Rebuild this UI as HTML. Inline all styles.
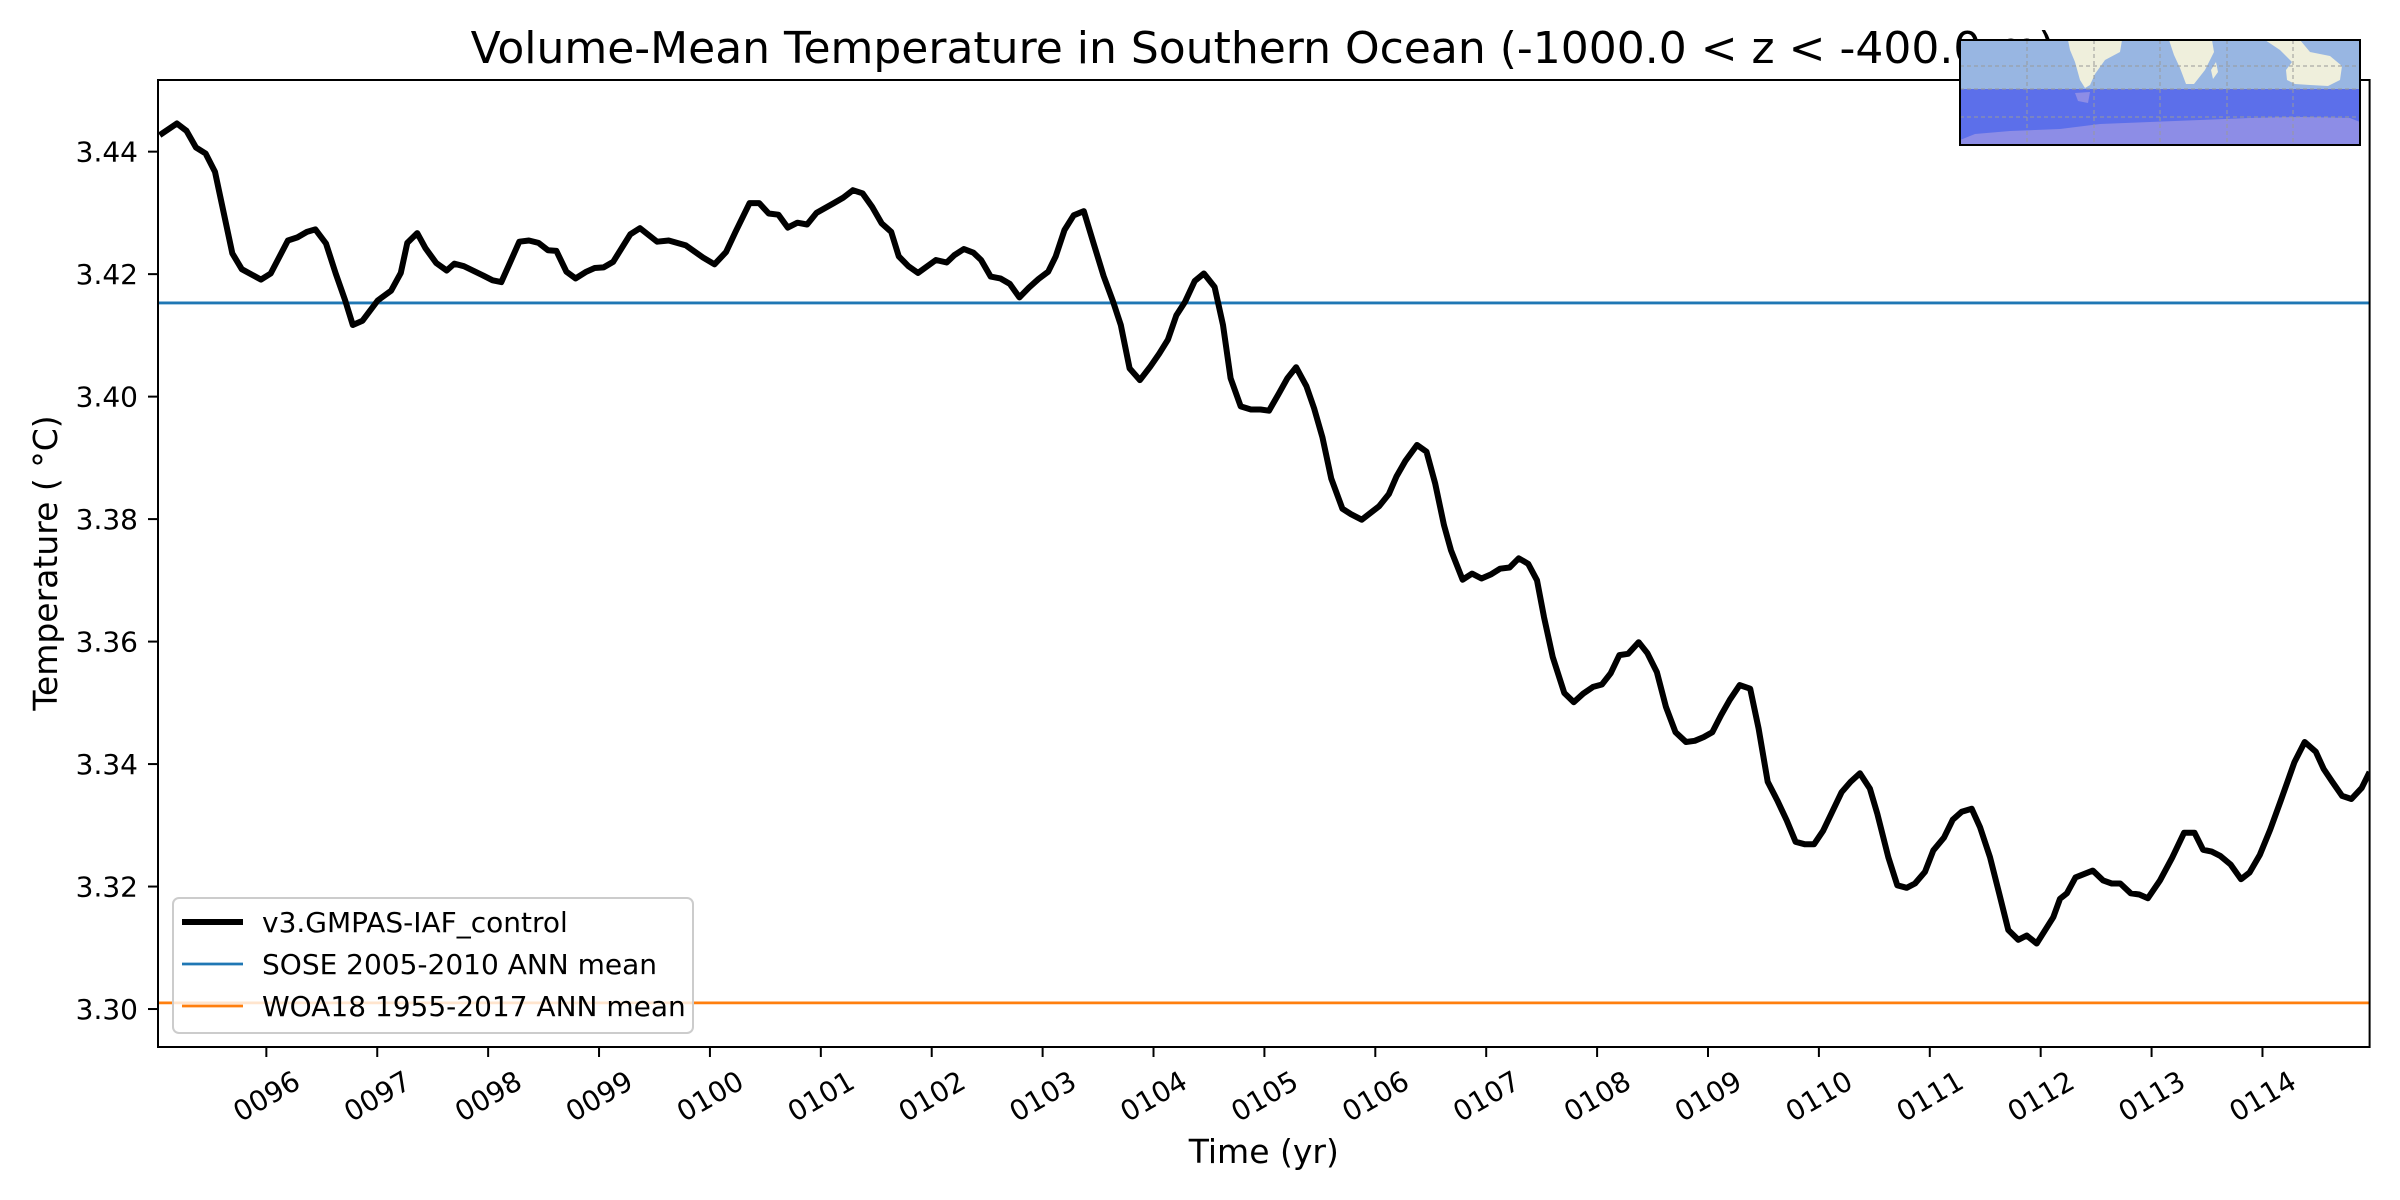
<!DOCTYPE html>
<html><head><meta charset="utf-8"><style>
html,body{margin:0;padding:0;background:#fff;}
svg{display:block;font-family:"DejaVu Sans","Liberation Sans",sans-serif;}
</style></head><body>
<svg id="chart" width="2400" height="1200" viewBox="0 0 2400 1200">
<rect x="0" y="0" width="2400" height="1200" fill="#fff"/>
<text x="1263" y="63" font-size="44" text-anchor="middle" fill="#000">Volume-Mean Temperature in Southern Ocean (-1000.0 &lt; z &lt; -400.0 m)</text>
<g id="plot"></g>
<g id="inset">
  <rect x="1960" y="40" width="400" height="50" fill="#98b6e2"/>
  <rect x="1960" y="89" width="400" height="56" fill="#5c6fea"/>
  <path d="M1960 140 L1975 134 L2010 131 L2060 129 L2100 124 L2150 122 L2200 120 L2250 118 L2300 117 L2350 118 L2360 122 L2360 145 L1960 145 Z" fill="#8d8de6"/>
  <path d="M2068 40 L2122 40 L2120 52 L2105 60 L2095 74 L2090 85 L2085 88 L2080 80 L2075 62 L2070 50 Z" fill="#efefdc"/>
  <path d="M2169 40 L2212 40 L2214 52 L2205 70 L2194 84 L2186 84 L2180 68 L2174 55 Z" fill="#efefdc"/>
  <path d="M2211 70 L2216 62 L2218 72 L2213 79 Z" fill="#efefdc"/>
  <path d="M2265 40 L2300 40 L2310 52 L2330 56 L2342 66 L2340 80 L2328 86 L2310 85 L2295 84 L2287 80 L2286 70 L2292 62 L2280 50 Z" fill="#efefdc"/>
  <path d="M2075 93 L2090 92 L2088 103 L2078 101 Z" fill="#8d8de6"/>
  <g stroke="#999" stroke-width="1" stroke-dasharray="4,3" fill="none">
    <line x1="2027" y1="40" x2="2027" y2="145"/><line x1="2094" y1="40" x2="2094" y2="145"/>
    <line x1="2160" y1="40" x2="2160" y2="145"/><line x1="2227" y1="40" x2="2227" y2="145"/>
    <line x1="2293" y1="40" x2="2293" y2="145"/>
    <line x1="1960" y1="66" x2="2360" y2="66"/><line x1="1960" y1="89" x2="2360" y2="89"/>
    <line x1="1960" y1="117" x2="2360" y2="117"/>
  </g>
  <rect x="1960" y="40" width="400" height="105" fill="none" stroke="#000" stroke-width="2"/>
</g>
</svg>
<script>
const times = [95.038,95.193,95.280,95.365,95.452,95.537,95.693,95.779,95.952,96.039,96.194,96.280,96.366,96.442,96.538,96.625,96.711,96.780,96.867,97.004,97.125,97.212,97.271,97.360,97.436,97.533,97.626,97.695,97.781,97.954,98.040,98.119,98.195,98.281,98.368,98.454,98.540,98.616,98.706,98.789,98.885,98.961,99.041,99.127,99.282,99.369,99.524,99.628,99.783,99.938,100.041,100.145,100.231,100.358,100.444,100.530,100.617,100.702,100.789,100.876,100.961,101.117,101.203,101.289,101.376,101.462,101.548,101.635,101.703,101.790,101.876,102.038,102.135,102.204,102.290,102.376,102.445,102.532,102.618,102.704,102.791,102.876,102.963,103.050,103.118,103.197,103.280,103.371,103.463,103.550,103.636,103.705,103.784,103.877,103.971,104.051,104.130,104.206,104.285,104.372,104.454,104.551,104.627,104.695,104.786,104.878,104.965,105.041,105.130,105.207,105.286,105.379,105.448,105.524,105.603,105.703,105.781,105.877,106.034,106.123,106.192,106.271,106.376,106.462,106.540,106.619,106.683,106.787,106.872,106.958,107.046,107.125,107.211,107.293,107.379,107.458,107.521,107.600,107.704,107.790,107.875,107.964,108.043,108.122,108.201,108.280,108.375,108.454,108.539,108.621,108.707,108.802,108.881,108.960,109.039,109.118,109.197,109.286,109.381,109.456,109.538,109.624,109.710,109.790,109.875,109.956,110.038,110.205,110.286,110.370,110.460,110.527,110.626,110.707,110.792,110.867,110.957,111.032,111.128,111.207,111.288,111.378,111.453,111.543,111.627,111.708,111.798,111.874,111.964,112.114,112.174,112.236,112.314,112.470,112.563,112.640,112.718,112.812,112.889,112.967,113.076,113.185,113.293,113.387,113.465,113.542,113.620,113.713,113.806,113.884,113.977,114.070,114.164,114.288,114.381,114.481,114.552,114.630,114.718,114.802,114.895,114.966];
const temps = [3.4427,3.4446,3.4434,3.4407,3.4397,3.4367,3.4234,3.4208,3.4191,3.4201,3.4255,3.4260,3.4269,3.4273,3.4250,3.4201,3.4157,3.4117,3.4124,3.4157,3.4173,3.4202,3.4251,3.4267,3.4242,3.4218,3.4206,3.4217,3.4213,3.4198,3.4190,3.4187,3.4218,3.4253,3.4255,3.4251,3.4239,3.4238,3.4204,3.4193,3.4204,3.4210,3.4211,3.4220,3.4265,3.4275,3.4253,3.4255,3.4247,3.4227,3.4216,3.4236,3.4269,3.4316,3.4316,3.4299,3.4297,3.4276,3.4284,3.4281,3.4300,3.4316,3.4325,3.4337,3.4332,3.4310,3.4283,3.4269,3.4229,3.4213,3.4202,3.4223,3.4219,3.4231,3.4241,3.4235,3.4223,3.4196,3.4193,3.4184,3.4162,3.4178,3.4192,3.4204,3.4229,3.4272,3.4296,3.4303,3.4248,3.4197,3.4155,3.4117,3.4046,3.4027,3.4049,3.4070,3.4093,3.4133,3.4155,3.4189,3.4201,3.4179,3.4117,3.4030,3.3984,3.3979,3.3979,3.3977,3.4005,3.4030,3.4048,3.4017,3.3981,3.3933,3.3866,3.3817,3.3808,3.3799,3.3821,3.3841,3.3870,3.3895,3.3921,3.3910,3.3858,3.3790,3.3749,3.3701,3.3711,3.3703,3.3710,3.3719,3.3721,3.3736,3.3727,3.3700,3.3640,3.3575,3.3516,3.3501,3.3515,3.3526,3.3530,3.3548,3.3578,3.3580,3.3599,3.3581,3.3550,3.3493,3.3452,3.3436,3.3438,3.3444,3.3452,3.3480,3.3505,3.3529,3.3523,3.3458,3.3371,3.3341,3.3308,3.3273,3.3269,3.3269,3.3291,3.3354,3.3371,3.3385,3.3360,3.3319,3.3248,3.3202,3.3198,3.3205,3.3224,3.3259,3.3280,3.3309,3.3322,3.3327,3.3297,3.3248,3.3188,3.3129,3.3113,3.3120,3.3107,3.3150,3.3180,3.3189,3.3215,3.3226,3.3210,3.3205,3.3205,3.3189,3.3187,3.3181,3.3210,3.3247,3.3288,3.3288,3.3260,3.3257,3.3250,3.3236,3.3212,3.3223,3.3252,3.3293,3.3340,3.3403,3.3436,3.3420,3.3392,3.3371,3.3348,3.3343,3.3361,3.3387];
const soseMean = 3.4153;
const woaMean = 3.3010;
const yTicks = [3.30,3.32,3.34,3.36,3.38,3.40,3.42,3.44];
const xTicks = [96,97,98,99,100,101,102,103,104,105,106,107,108,109,110,111,112,113,114];
const xTickLabels = ["0096","0097","0098","0099","0100","0101","0102","0103","0104","0105","0106","0107","0108","0109","0110","0111","0112","0113","0114"];
const legendLabels = ["v3.GMPAS-IAF_control","SOSE 2005-2010 ANN mean","WOA18 1955-2017 ANN mean"];

const NS="http://www.w3.org/2000/svg";
const L=158,R=2369.6,T=80,B=1047;
const x0=95.023,x1=114.966,y0=3.2938,y1=3.4517;
function sx(t){return L+(t-x0)/(x1-x0)*(R-L);}
function sy(v){return B-(v-y0)/(y1-y0)*(B-T);}
function mk(tag,attrs,parent){const e=document.createElementNS(NS,tag);for(const k in attrs)e.setAttribute(k,attrs[k]);parent.appendChild(e);return e;}
const plot=document.getElementById('plot');
const svg=document.getElementById('chart');

const cp=mk('clipPath',{id:'clip'},svg);
mk('rect',{x:L,y:T,width:R-L,height:B-T},cp);
const series=mk('g',{'clip-path':'url(#clip)'},plot);

const sose=mk('line',{x1:L,x2:R,y1:sy(soseMean),y2:sy(soseMean),stroke:'#1f77b4','stroke-width':2.8},series);


const woa=mk('line',{x1:L,x2:R,y1:sy(woaMean),y2:sy(woaMean),stroke:'#ff7f0e','stroke-width':2.8},series);


let d='';
for(let i=0;i<times.length;i++){d+=(i?'L':'M')+sx(times[i]).toFixed(1)+' '+sy(temps[i]).toFixed(1);}
const line=mk('path',{d:d,fill:'none',stroke:'#000','stroke-width':6,'stroke-linejoin':'round'},series);



const frame=mk('rect',{x:L,y:T,width:R-L,height:B-T,fill:'none',stroke:'#000','stroke-width':2},plot);



yTicks.forEach(v=>{
  const y=sy(v);
  const tk=mk('line',{x1:L-10,x2:L,y1:y,y2:y,stroke:'#000','stroke-width':2},plot);
  
  
  const tx=mk('text',{x:L-20,y:y+10,'font-size':28,'text-anchor':'end',fill:'#000'},plot);
  tx.textContent=v.toFixed(2);
  
  
});
xTicks.forEach((t,i)=>{
  const x=sx(t);
  const tk=mk('line',{x1:x,x2:x,y1:B,y2:B+10,stroke:'#000','stroke-width':2},plot);
  
  
  const tx=mk('text',{x:x,y:1106,'font-size':28,'text-anchor':'middle',fill:'#000',transform:'rotate(-30 '+x+' 1096)'},plot);
  tx.textContent=xTickLabels[i];
  
  
});
const xl=mk('text',{x:(L+R)/2,y:1163,'font-size':33,'text-anchor':'middle',fill:'#000'},plot);
xl.textContent='Time (yr)';


const yl=mk('text',{x:0,y:0,'font-size':33,'text-anchor':'middle',fill:'#000',transform:'translate(57 563) rotate(-90)'},plot);
yl.textContent='Temperature ( °C)';



const lg=mk('g',{},plot);


mk('rect',{x:173,y:898,width:520,height:135,rx:6,fill:'rgba(255,255,255,0.8)',stroke:'#ccc','stroke-width':2},lg);
const lcol=['#000','#1f77b4','#ff7f0e'],lw=[6,2.8,2.8],ly=[922,964,1006];
legendLabels.forEach((s,i)=>{
  const h=mk('line',{x1:182,x2:243,y1:ly[i],y2:ly[i],stroke:lcol[i],'stroke-width':lw[i]},lg);
  
  
  const tx=mk('text',{x:262,y:ly[i]+10,'font-size':28,fill:'#000'},lg);
  tx.textContent=s;
  
  
});
svg.appendChild(document.getElementById('inset'));
</script>
</body></html>
